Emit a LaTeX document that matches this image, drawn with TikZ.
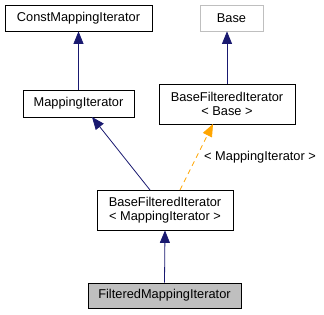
\documentclass[tikz,border=0pt]{standalone}
\usepackage{fontspec}
\setmainfont{Liberation Sans}
\usetikzlibrary{arrows.meta}
\definecolor{edgeblue}{HTML}{191970}
\definecolor{tmplorange}{HTML}{FFA500}
\definecolor{boxgray}{HTML}{BFBFBF}
\begin{document}
\begin{tikzpicture}[x=1pt,y=-1pt,
  txt/.style={font=\fontsize{12.8}{14.5}\selectfont},
  cls/.style={txt, draw=black, line width=0.8pt, fill=white, inner sep=0pt, align=center},
  ext/.style={cls, draw=boxgray},
  cur/.style={cls, fill=boxgray},
  inherit/.style={draw=edgeblue, line width=0.8pt, -{Triangle[length=12.5pt,width=10pt]}},
  tmpl/.style={draw=tmplorange, line width=0.8pt, dash pattern=on 5pt off 4pt,
    -{Triangle[length=12.5pt,width=10pt,fill=tmplorange]}},
  lbl/.style={txt, inner sep=0pt}]
\useasboundingbox (0,0) rectangle (324,315);
% class boxes
\node[cls, minimum width=147pt, minimum height=26pt] (cmi) at (78.5,18) {ConstMappingIterator};
\node[ext, minimum width=63pt, minimum height=26pt] (base) at (231.5,18) {Base};
\node[cls, minimum width=111pt, minimum height=27pt] (mi) at (78.5,103.5) {MappingIterator};
\node[cls, minimum width=136pt, minimum height=40pt] (bfib) at (227,104) {BaseFilteredIterator\\{<} Base {>}};
\node[cls, minimum width=136pt, minimum height=40pt] (bfim) at (165,210) {BaseFilteredIterator\\{<} MappingIterator {>}};
\node[cur, minimum width=153pt, minimum height=25pt] (fmi) at (164.5,295.5) {FilteredMappingIterator};
% inheritance edges
\coordinate (bfimA) at (150,190);
\coordinate (miB) at (92,117);
\coordinate (bfimB) at (180,190);
\coordinate (bfibB) at (213,124);
\draw[inherit] (mi.north) -- (cmi.south);
\draw[inherit] (bfib.north) -- (bfib.north |- base.south);
\draw[inherit] (bfimA) -- (miB);
\draw[inherit] (fmi.north) -- (bfim.south);
% template instantiation
\draw[tmpl] (bfimB) -- (bfibB);
\node[lbl, anchor=west] (tl) at (204,157) {{<} MappingIterator {>}};
\end{tikzpicture}
\end{document}
